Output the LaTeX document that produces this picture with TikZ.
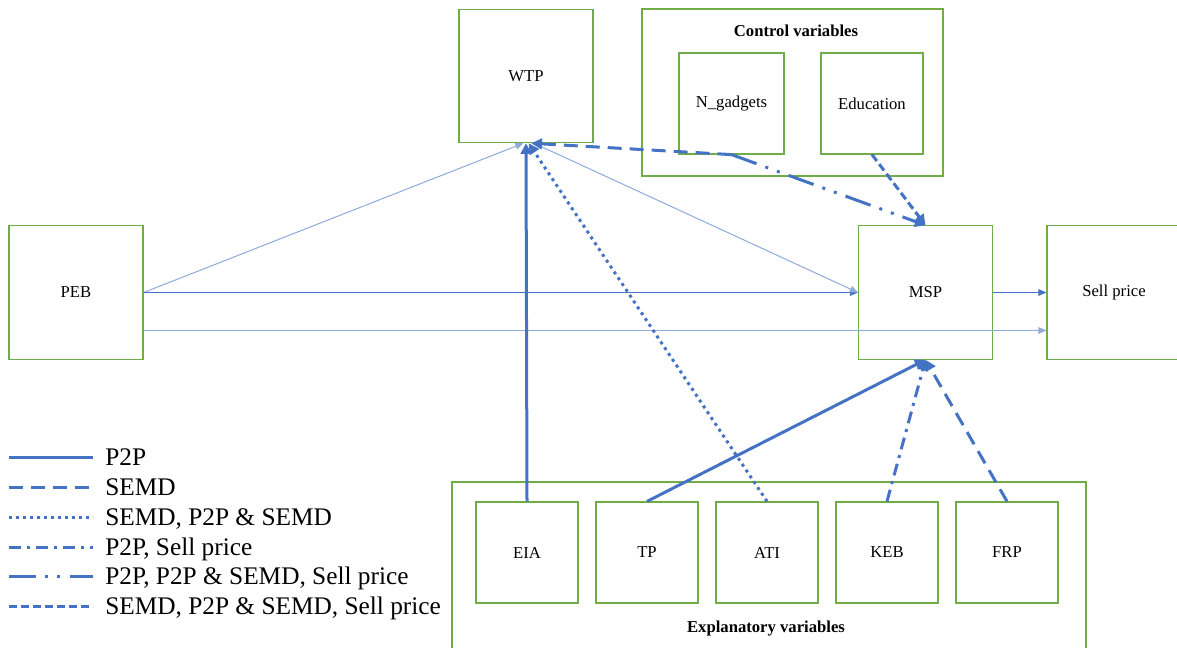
\documentclass[tikz,border=0pt]{standalone}
\usepackage{fontspec}
\setmainfont{Liberation Serif}
\usetikzlibrary{arrows.meta,positioning}
\definecolor{boxgreen}{RGB}{112,173,71}
\definecolor{linkblue}{RGB}{68,114,196}
\definecolor{paleblue}{RGB}{143,170,220}

\begin{document}
\begin{tikzpicture}[x=0.75pt, y=-0.75pt, >={Triangle[length=6pt,width=5pt]}, node distance=90pt, font=\fontsize{12.5}{15}\selectfont]
\tikzstyle{var}=[draw=boxgreen, line width=0.9pt, minimum width=100.5pt, minimum height=100pt, inner sep=0pt]
\tikzstyle{subvar}=[var, minimum width=76.5pt, minimum height=75.75pt]
\tikzstyle{panel}=[draw=boxgreen, line width=0.9pt]
\tikzstyle{paneltitle}=[font=\fontsize{12.5}{15}\selectfont\bfseries]
\tikzstyle{key}=[anchor=base west, inner sep=0pt, font=\fontsize{19}{22}\selectfont]
\tikzstyle{flow}=[->, line width=0.75pt, linkblue]
\tikzstyle{paleflow}=[->, line width=0.75pt, paleblue]
\tikzstyle{effect}=[-{Triangle[length=8pt,width=8pt]}, line width=2.25pt, linkblue]
\tikzstyle{p2p}=[effect]
\tikzstyle{semd}=[effect, dash pattern=on 10.5pt off 6pt]
\tikzstyle{semdboth}=[effect, dash pattern=on 2.25pt off 3pt]
\tikzstyle{p2psell}=[effect, dash pattern=on 9pt off 4.5pt on 2.25pt off 4.5pt]
\tikzstyle{p2pbothsell}=[effect, dash pattern=on 20pt off 7pt on 2.25pt off 7pt on 2.25pt off 7pt]
\tikzstyle{semdbothsell}=[effect, dash pattern=on 6pt off 3pt]

\useasboundingbox (0,0) rectangle (1177,647);
\clip (0,0) rectangle (1177,647);

% outcome boxes
\node[var]    (PEB)   at (76,292.5)     {PEB};
\node[var]    (WTP)   at (526,76)       {WTP};
\node[var]    (MSP)   at (925.5,292.5)  {MSP};
\node[var]    (Sell)  at (1114,292.5)   {Sell price};

% control variables
\draw[panel] (642,9) rectangle (943,176);
\node[paneltitle] (ctrl) at (796,31) {Control variables};
\node[subvar, minimum width=78.75pt] (Ngad) at (731.5,103.5) {N\_gadgets};
\node[subvar] (Edu)   at (872,103.5)    {Education};

% explanatory variables
\draw[panel] (452,482) rectangle (1086,670);
\node[paneltitle] (expl) at (766,629) {Explanatory variables};
\node[subvar] (EIA)   at (527,552.5)    {EIA};
\node[subvar] (TP)    [right of=EIA]    {TP};
\node[subvar] (ATI)   [right of=TP]     {ATI};
\node[subvar] (KEB)   [right of=ATI]    {KEB};
\node[subvar] (FRP)   [right of=KEB]    {FRP};

\path
(PEB.east) edge[paleflow]  ([xshift=-2pt]WTP.south)
           edge[flow]      (MSP.west)
([yshift=-28.5pt]PEB.east) edge[paleflow] ([yshift=-28.5pt]Sell.west)
([xshift=6pt]WTP.south) edge[paleflow] (MSP.west)
(MSP.east) edge[flow]      (Sell.west);

\path
(EIA.north)  edge[p2p]          (WTP.south)
(ATI.north)  edge[semdboth]     ([xshift=2pt]WTP.south)
(Ngad.south) edge[semd]         ([xshift=4pt]WTP.south)
             edge[p2pbothsell]  (MSP.north)
(Edu.south)  edge[semdbothsell] (MSP.north)
(TP.north)   edge[p2p]          (MSP.south)
(KEB.north)  edge[p2psell]      (MSP.south)
(FRP.north)  edge[semd]         (MSP.south);

% legend
\coordinate (k1) at (9,457);
\coordinate (k2) at (9,487);
\coordinate (k3) at (9,517);
\coordinate (k4) at (9,547);
\coordinate (k5) at (9,576);
\coordinate (k6) at (9,606);
\draw[p2p,-]          (k1) -- +(84,0);
\draw[semd,-]         (k2) -- +(84,0);
\draw[semdboth,-]     (k3) -- +(84,0);
\draw[p2psell,-]      (k4) -- +(84,0);
\draw[p2pbothsell,-]  (k5) -- +(84,0);
\draw[semdbothsell,-] (k6) -- +(84,0);
\node[key] (l1) at (105,465) {P2P};
\node[key] (l2) at (105,495) {SEMD};
\node[key] (l3) at (105,525) {SEMD, P2P \& SEMD};
\node[key] (l4) at (105,555) {P2P, Sell price};
\node[key] (l5) at (105,584) {P2P, P2P \& SEMD, Sell price};
\node[key] (l6) at (105,614) {SEMD, P2P \& SEMD, Sell price};
\end{tikzpicture}
\end{document}
